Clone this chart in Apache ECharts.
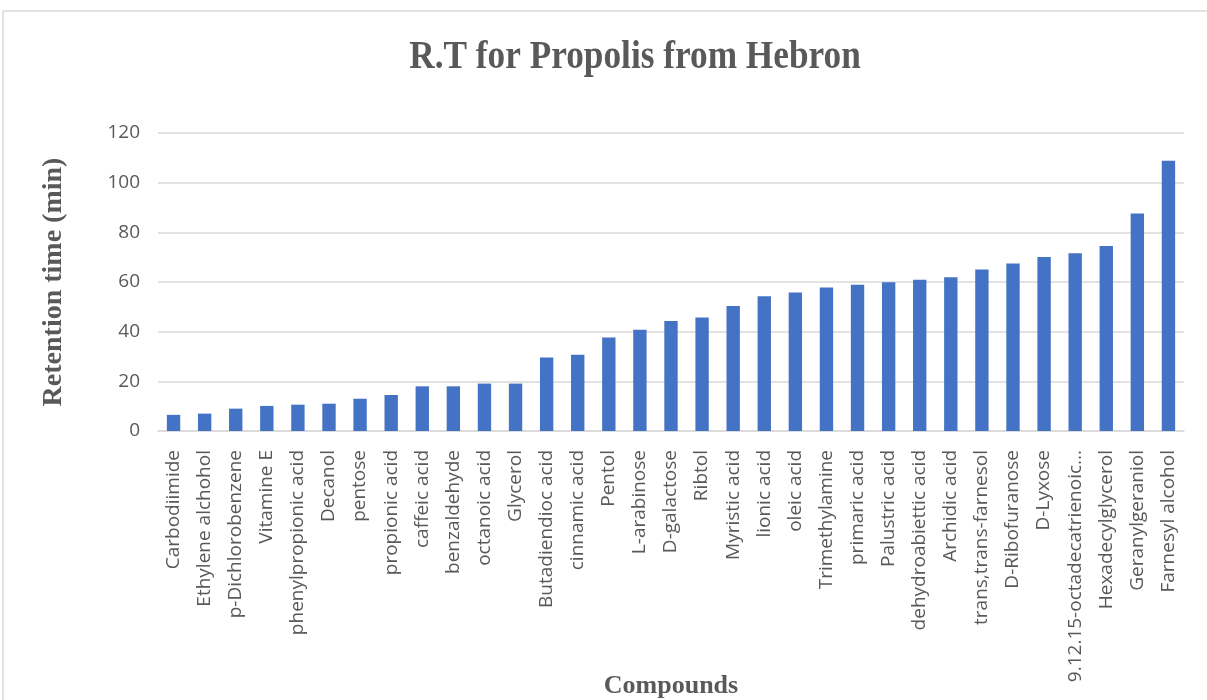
<!DOCTYPE html>
<html>
<head>
<meta charset="utf-8">
<title>R.T for Propolis from Hebron</title>
<script src="https://cdn.jsdelivr.net/npm/echarts@6/dist/echarts.min.js"></script>
<style>
  html, body { margin: 0; padding: 0; background: #ffffff; }
  #chart { width: 1207px; height: 700px; }
</style>
</head>
<body>
<div id="chart"></div>
<script>
// Compounds identified in the Hebron propolis sample, ordered by retention time
const compounds = [
  'Carbodiimide', 'Ethylene alchohol', 'p-Dichlorobenzene', 'Vitamine E',
  'phenylpropionic acid', 'Decanol', 'pentose', 'propionic acid',
  'caffeic acid', 'benzaldehyde', 'octanoic acid', 'Glycerol',
  'Butadiendioc acid', 'cinnamic acid', 'Pentol', 'L-arabinose',
  'D-galactose', 'Ribtol', 'Myristic acid', 'lionic acid', 'oleic acid',
  'Trimethylamine', 'primaric acid', 'Palustric acid', 'dehydroabiettic acid',
  'Archidic acid', 'trans,trans-farnesol', 'D-Ribofuranose', 'D-Lyxose',
  '9.12.15-octadecatrienoic acid', 'Hexadecylglycerol', 'Geranylgeraniol',
  'Farnesyl alcohol'
];

// Retention time of each compound (min)
const retentionTimes = [
  6.5, 7.0, 9.0, 10.1, 10.6, 11.0, 13.0, 14.5, 18.0, 18.0, 19.1, 19.1,
  29.6, 30.7, 37.7, 40.8, 44.3, 45.7, 50.3, 54.3, 55.8, 57.8,
  58.9, 59.9, 60.9, 61.9, 65.0, 67.5, 70.1, 71.6, 74.5, 87.6, 108.8
];

// Value axis ticks
const yTicks = { min: 0, max: 120, step: 20 };

const chartTitle = 'R.T for Propolis from Hebron';
const yAxisTitle = 'Retention time (min)';
const xAxisTitle = 'Compounds';

const textGray = '#595959';
const gridGray = '#d9d9d9';

const chart = echarts.init(document.getElementById('chart'), null, { renderer: 'canvas' });

chart.setOption({
  backgroundColor: '#ffffff',
  animation: false,
  graphic: [
    {
      // chart frame
      type: 'rect',
      shape: { x: 3, y: 11, width: 1220, height: 720 },
      style: { fill: 'none', stroke: gridGray, lineWidth: 1.5 },
      silent: true
    },
    {
      // condensed bold title
      type: 'text',
      x: 635,
      y: 57,
      scaleX: 0.86,
      style: {
        text: chartTitle,
        fontFamily: '"Liberation Serif", "DejaVu Serif", serif',
        fontWeight: 'bold',
        fontSize: 41,
        fill: textGray,
        align: 'center',
        verticalAlign: 'middle'
      },
      silent: true
    }
  ],
  grid: {
    left: 158,
    right: 23,
    top: 133,
    bottom: 269,
    containLabel: false,
    outerBoundsMode: 'none'
  },
  xAxis: {
    type: 'category',
    data: compounds,
    name: xAxisTitle,
    nameLocation: 'middle',
    nameGap: 242,
    nameMoveOverlap: false,
    nameTextStyle: {
      fontFamily: '"Liberation Serif", serif',
      fontWeight: 'bold',
      fontSize: 26,
      color: textGray
    },
    axisLine: { show: true, lineStyle: { color: gridGray, width: 1.5 } },
    axisTick: { show: false },
    axisLabel: {
      interval: 0,
      rotate: 90,
      margin: 19,
      fontFamily: '"Open Sans", sans-serif',
      fontSize: 19,
      color: textGray,
      formatter: function (name) {
        return name.length > 26 ? name.slice(0, 24) + '...' : name;
      }
    }
  },
  yAxis: {
    type: 'value',
    min: yTicks.min,
    max: yTicks.max,
    interval: yTicks.step,
    name: yAxisTitle,
    nameLocation: 'middle',
    nameRotate: 90,
    nameGap: 90,
    nameMoveOverlap: false,
    nameTextStyle: {
      fontFamily: '"Liberation Serif", serif',
      fontWeight: 'bold',
      fontSize: 28,
      color: textGray
    },
    axisLine: { show: false },
    axisTick: { show: false },
    axisLabel: {
      margin: 18,
      fontFamily: '"Open Sans", sans-serif',
      fontSize: 19,
      color: textGray
    },
    splitLine: { lineStyle: { color: gridGray, width: 1.5 } }
  },
  series: [
    {
      type: 'bar',
      data: retentionTimes,
      barWidth: '43%',
      itemStyle: { color: '#4472c4' }
    }
  ]
});
</script>
</body>
</html>
